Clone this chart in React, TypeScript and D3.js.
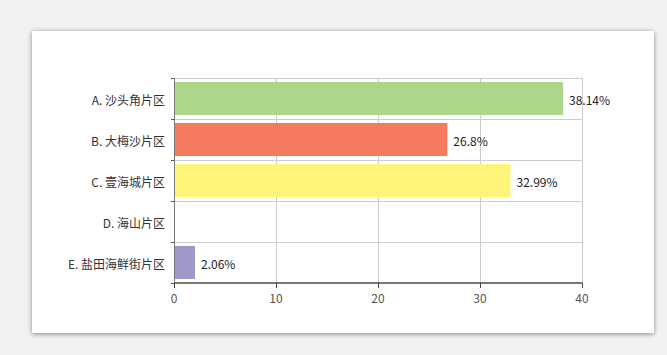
import React from "react";
import * as d3 from "d3";

const categories = ["A. 沙头角片区", "B. 大梅沙片区", "C. 壹海城片区", "D. 海山片区", "E. 盐田海鲜街片区"];
const values = [38.14, 26.8, 32.99, 0, 2.06];
const labels = ["38.14%", "26.8%", "32.99%", "", "2.06%"];
const colors = ["#aed68a", "#f47b5e", "#fef47a", "#cccccc", "#9e99c9"];
const xTicks = [0, 10, 20, 30, 40];

const W = 667, H = 355;
const L = 174, R = 582, T = 78, B = 283;
const font = "'Microsoft YaHei', 'Noto Sans CJK SC', sans-serif";

export default function App() {
  const x = d3.scaleLinear().domain([0, 40]).range([L, R]);
  const bounds = d3.range(categories.length + 1).map(i => T + i * ((B - T) / categories.length));
  const bh = (B - T) / categories.length;
  return (
    <svg width={W} height={H} style={{ position: "absolute", left: 0, top: 0 }}>
      <defs>
        <filter id="sh" x="-5%" y="-5%" width="110%" height="115%">
          <feDropShadow dx="0" dy="1" stdDeviation="2.5" floodColor="#000" floodOpacity="0.45" />
        </filter>
      </defs>
      <rect x={0} y={0} width={W} height={H} fill="#f2f2f2" />
      <rect x={32} y={31} width={622} height={302} fill="#fff" filter="url(#sh)" />
      {bounds.slice(0, -1).map((b, i) => (
        <line key={"h" + i} x1={L} x2={R} y1={b + 0.5} y2={b + 0.5} stroke="#cccccc" />
      ))}
      {xTicks.slice(1).map(t => (
        <line key={"v" + t} x1={x(t) + 0.5} x2={x(t) + 0.5} y1={T} y2={B} stroke="#cccccc" />
      ))}
      {categories.map((c, i) => values[i] > 0 ? (
        <rect key={c} x={x(0) + 1} y={bounds[i] + 4} width={x(values[i]) - x(0) - 1} height={bh - 8} fill={colors[i]} />
      ) : null)}
      {categories.map((c, i) => labels[i] ? (
        <text key={"l" + c} x={x(values[i]) + 6} y={(bounds[i] + bounds[i + 1]) / 2 + 2.5} dy="0.35em"
          fontSize={12} fill="#222" fontFamily={font}>{labels[i]}</text>
      ) : null)}
      <line x1={L + 0.5} x2={L + 0.5} y1={T} y2={B} stroke="#777" />
      {bounds.map((b, i) => (
        <line key={"yt" + i} x1={L - 3} x2={L} y1={b + 0.5} y2={b + 0.5} stroke="#555" />
      ))}
      {categories.map((c, i) => (
        <text key={"c" + c} x={L - 9} y={(bounds[i] + bounds[i + 1]) / 2 + 2.5} dy="0.35em" textAnchor="end"
          fontSize={12} fill="#333" fontFamily={font}>{c}</text>
      ))}
      <line x1={L} x2={R + 0.5} y1={B} y2={B} stroke="#777" strokeWidth={2} />
      {xTicks.map(t => (
        <g key={"xt" + t}>
          <line x1={x(t) + 0.5} x2={x(t) + 0.5} y1={B} y2={B + 5} stroke="#444" />
          <text x={x(t)} y={B + 16} dy="0.35em" textAnchor="middle" fontSize={12} fill="#555" fontFamily={font}>{t}</text>
        </g>
      ))}
    </svg>
  );
}
